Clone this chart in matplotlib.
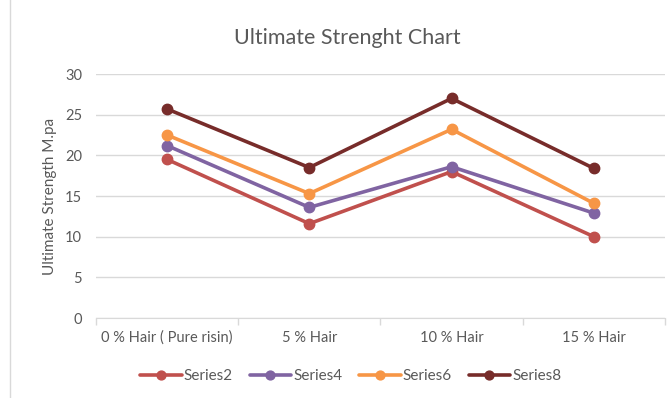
import matplotlib
matplotlib.use("Agg")
from matplotlib import pyplot as plt
from matplotlib.patches import Rectangle

categories = ["0 % Hair ( Pure risin)", "5 % Hair", "10 % Hair", "15 % Hair"]
series2 = [19.5, 11.6, 18.0, 10.0]
series4 = [21.2, 13.6, 18.6, 12.9]
series6 = [22.5, 15.3, 23.2, 14.1]
series8 = [25.7, 18.5, 27.0, 18.4]

names = ["Series2", "Series4", "Series6", "Series8"]
colors = ["#C0504D", "#8064A2", "#F79646", "#772C2A"]

plt.rcParams['font.family'] = ['Lato', 'DejaVu Sans']
txt = "#595959"

fig = plt.figure(figsize=(6.71, 3.98), dpi=100)
ax = fig.add_axes([0.143, 0.201, 0.848, 0.613])

x = list(range(len(categories)))
for vals, name, c in zip([series2, series4, series6, series8], names, colors):
    ax.plot(x, vals, color=c, lw=2.6, marker='o', ms=7.5, label=name,
            solid_capstyle='round', zorder=3)

ax.set_xlim(-0.5, 3.5)
ax.set_ylim(0, 30)
ax.set_yticks(range(0, 31, 5))
ax.set_xticks(x)
ax.set_xticklabels(categories)
ax.set_xticks([-0.5, 0.5, 1.5, 2.5, 3.5], minor=True)
ax.tick_params(axis='x', which='major', length=0, pad=9, labelsize=10.5, labelcolor=txt)
ax.tick_params(axis='x', which='minor', length=5, color='#D9D9D9', width=1)
ax.tick_params(axis='y', length=0, pad=10, labelsize=10.5, labelcolor=txt)
ax.grid(axis='y', color='#D9D9D9', lw=1)
ax.set_axisbelow(True)
for s in ['top', 'right', 'left']:
    ax.spines[s].set_visible(False)
ax.spines['bottom'].set_color('#D9D9D9')

ax.set_ylabel("Ultimate Strength M.pa", fontsize=11, color=txt, labelpad=6)
fig.text(0.517, 0.905, "Ultimate Strenght Chart", ha='center', va='center',
         fontsize=15.5, color=txt)

fig.legend(loc='center', bbox_to_anchor=(0.523, 0.055), ncol=4, frameon=False,
           fontsize=11, labelcolor=txt, handlelength=2.7, handletextpad=0.15,
           columnspacing=1.1, markerscale=0.85)

fig.patches.append(Rectangle((0.015, -0.01), 0.99, 1.1, transform=fig.transFigure,
                             fill=False, edgecolor='#D9D9D9', lw=1))

fig.savefig("out.png", dpi=100)
